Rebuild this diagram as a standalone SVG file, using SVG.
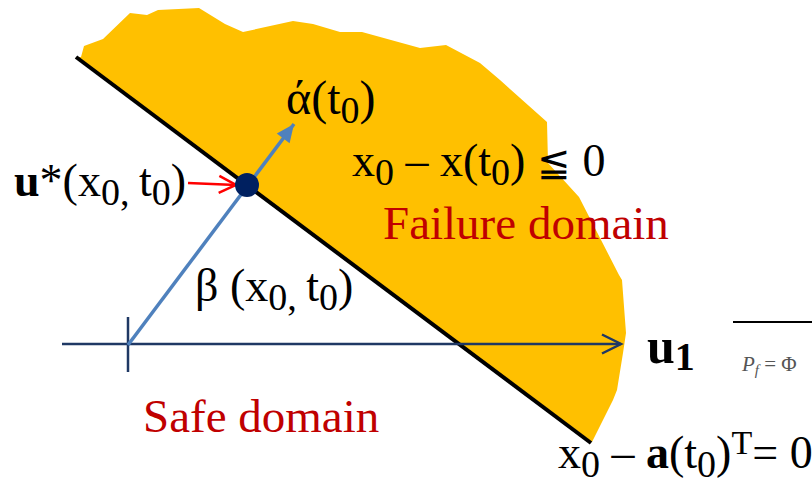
<svg xmlns="http://www.w3.org/2000/svg" width="812" height="486" viewBox="0 0 812 486">
<style>
.m{font-family:"Liberation Serif","Times New Roman",serif;font-size:46px;fill:#000}
.s{font-size:38px}
.b{font-weight:bold}
.le{font-family:"DejaVu Serif","Liberation Serif",serif;font-size:40px}
.red{font-family:"Liberation Serif","Times New Roman",serif;font-size:47px;fill:#C00000}
.pf{font-family:"Liberation Serif","Times New Roman",serif;font-size:21px;font-style:italic;fill:#555}
</style>
<defs>
<marker id="openNavy" markerUnits="userSpaceOnUse" markerWidth="24" markerHeight="24" refX="19" refY="10" orient="auto" overflow="visible">
<path d="M0,0.5 L19,10 L0,19.5" fill="none" stroke="#1F3864" stroke-width="2.5"/>
</marker>
<marker id="openRed" markerUnits="userSpaceOnUse" markerWidth="24" markerHeight="24" refX="17" refY="9" orient="auto" overflow="visible">
<path d="M0,0.5 L17,9 L0,17.5" fill="none" stroke="#FF0000" stroke-width="2.5"/>
</marker>
<marker id="triBlue" markerUnits="userSpaceOnUse" markerWidth="24" markerHeight="24" refX="18" refY="8" orient="auto" overflow="visible">
<path d="M0,0 L18,8 L0,16 Z" fill="#4F81BD"/>
</marker>
</defs>
<g id="failure-domain">
<polygon fill="#FFC000" points="76,57 81,57 84,46 103,39 130,13 147,15 158,10 199,8 225,24 243,32 293,21 313,24 340,32 362,32 420,48 446,45 480,63 500,80 547,122 548,163 579,197 619,275 622,280 626,333 623,353 617,390 613,400 592,442"/>
</g>
<g id="limit-state-line">
<line x1="76" y1="57" x2="591" y2="443" stroke="#000" stroke-width="4"/>
</g>
<g id="connectors">
<line x1="62" y1="344" x2="621" y2="344" stroke="#1F3864" stroke-width="2.5" marker-end="url(#openNavy)"/>
<line x1="128" y1="317" x2="128" y2="372" stroke="#1F3864" stroke-width="2.5"/>
<line x1="128" y1="345" x2="294" y2="124" stroke="#4F81BD" stroke-width="3.5" marker-end="url(#triBlue)"/>
<line x1="188" y1="183" x2="236" y2="185" stroke="#FF0000" stroke-width="2.5" marker-end="url(#openRed)"/>
</g>
<g id="design-point">
<circle cx="247" cy="185" r="12" fill="#002060"/>
</g>
<g id="labels">
<text x="286" y="114" class="m" style="font-size:48px">ά(t<tspan class="s" dy="9">0</tspan><tspan dy="-9">)</tspan></text>
<text x="14" y="196" class="m"><tspan class="b">u</tspan>*(x<tspan class="s" dy="9">0, </tspan><tspan dy="-9">t</tspan><tspan class="s" dy="9">0</tspan><tspan dy="-9">)</tspan></text>
<text x="352" y="176" class="m">x<tspan class="s" dy="9">0</tspan><tspan dy="-9"> – x(t</tspan><tspan class="s" dy="9">0</tspan><tspan dy="-9">) </tspan><tspan class="le">≦</tspan> 0</text>
<text x="383" y="239" class="red">Failure domain</text>
<text x="195" y="301" class="m">β (x<tspan class="s" dy="9">0, </tspan><tspan dy="-9">t</tspan><tspan class="s" dy="9">0</tspan><tspan dy="-9">)</tspan></text>
<text x="647" y="363" class="m b" style="font-size:50px">u<tspan style="font-size:40px" dy="7">1</tspan></text>
<line x1="733" y1="322" x2="812" y2="322" stroke="#000" stroke-width="2"/>
<text x="742" y="371" class="pf">P<tspan style="font-size:15px" dy="4">f</tspan><tspan dy="-4" style="font-style:normal"> = Φ</tspan></text>
<text x="143" y="432" class="red">Safe domain</text>
<text x="558" y="468" class="m">x<tspan class="s" dy="9">0</tspan><tspan dy="-9"> – </tspan><tspan class="b">a</tspan>(t<tspan class="s" dy="9">0</tspan><tspan dy="-9">)</tspan><tspan style="font-size:34px" dy="-14">T</tspan><tspan dy="14">= 0</tspan></text>
</g>
</svg>
